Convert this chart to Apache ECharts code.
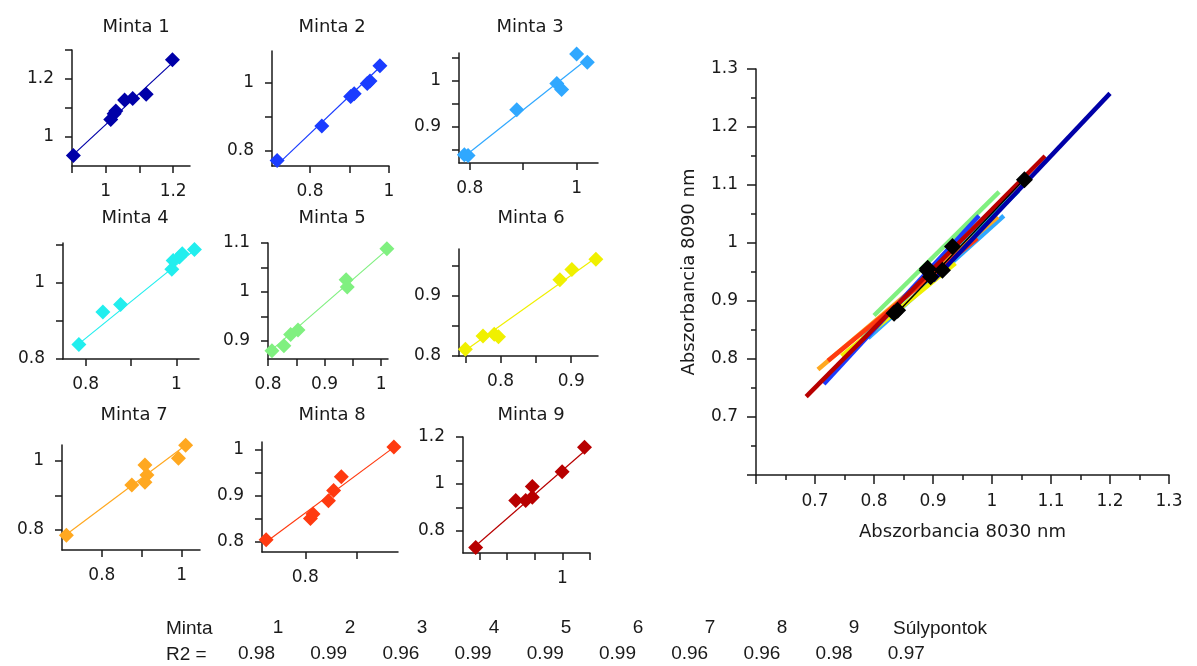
<!DOCTYPE html>
<html>
<head>
<meta charset="utf-8">
<script src="https://cdn.jsdelivr.net/npm/echarts@6/dist/echarts.min.js"></script>
<style>
html,body{margin:0;padding:0;background:#fff;}
#chart{width:1197px;height:666px;}
</style>
</head>
<body>
<div id="chart"></div>
<script>
// ---------------- DATA ----------------
const sampleNames = ['Minta 1','Minta 2','Minta 3','Minta 4','Minta 5','Minta 6','Minta 7','Minta 8','Minta 9'];
const sampleColors = ['#0000a8','#1a3cff','#30a8ff','#22eeee','#80f080','#f0f000','#ffa820','#ff3a10','#b80000'];

// Absorbance 8030 nm (x) and 8090 nm (y) per sample
const minta1X = [0.904, 1.015, 1.025, 1.030, 1.056, 1.080, 1.120, 1.198];
const minta1Y = [0.936, 1.060, 1.080, 1.090, 1.128, 1.133, 1.147, 1.266];
const minta2X = [0.717, 0.830, 0.903, 0.912, 0.945, 0.952, 0.977];
const minta2Y = [0.772, 0.873, 0.960, 0.968, 0.998, 1.005, 1.050];
const minta3X = [0.790, 0.797, 0.888, 0.963, 0.972, 1.000, 1.020];
const minta3Y = [0.840, 0.838, 0.937, 0.994, 0.981, 1.058, 1.040];
const minta4X = [0.785, 0.838, 0.877, 0.990, 0.993, 1.007, 1.013, 1.040];
const minta4Y = [0.838, 0.923, 0.943, 1.035, 1.058, 1.067, 1.076, 1.087];
const minta5X = [0.807, 0.828, 0.840, 0.853, 0.938, 0.940, 1.010];
const minta5Y = [0.880, 0.890, 0.913, 0.922, 1.025, 1.010, 1.088];
const minta6X = [0.750, 0.775, 0.791, 0.797, 0.884, 0.901, 0.935];
const minta6Y = [0.811, 0.833, 0.836, 0.832, 0.926, 0.943, 0.960];
const minta7X = [0.711, 0.875, 0.908, 0.913, 0.908, 0.992, 1.010];
const minta7Y = [0.785, 0.930, 0.988, 0.959, 0.938, 1.008, 1.045];
const minta8X = [0.724, 0.810, 0.815, 0.845, 0.855, 0.870, 0.972];
const minta8Y = [0.804, 0.850, 0.860, 0.889, 0.911, 0.941, 1.006];
const minta9X = [0.686, 0.831, 0.867, 0.891, 0.891, 0.999, 1.080];
const minta9Y = [0.729, 0.929, 0.929, 0.943, 0.989, 1.052, 1.156];

// Fitted line endpoints (samples 1..9, then centroid line)
const fitStartX = [0.900, 0.715, 0.790, 0.780, 0.800, 0.745, 0.705, 0.722, 0.685, 0.834];
const fitStartY = [0.935, 0.757, 0.836, 0.835, 0.875, 0.805, 0.782, 0.797, 0.735, 0.874];
const fitEndX   = [1.200, 0.978, 1.020, 1.045, 1.012, 0.938, 1.010, 0.975, 1.090, 1.055];
const fitEndY   = [1.258, 1.047, 1.047, 1.090, 1.088, 0.965, 1.045, 1.008, 1.150, 1.110];

// Centroids (Súlypontok) of samples 1..9
const centroidX = [1.055, 0.890, 0.916, 0.933, 0.891, 0.834, 0.896, 0.840, 0.891];
const centroidY = [1.109, 0.953, 0.953, 0.994, 0.956, 0.879, 0.942, 0.884, 0.956];

// Panel axis ranges and ticks
const panelXRange = [[0.9,1.25],[0.704,1.0],[0.78,1.04],[0.75,1.05],[0.8,1.012],[0.741,0.938],[0.7,1.046],[0.716,0.98],[0.64,1.1]];
const panelYRange = [[0.9,1.3],[0.756,1.093],[0.822,1.06],[0.8,1.104],[0.863,1.1],[0.8,0.977],[0.742,1.046],[0.777,1.017],[0.705,1.2]];
const panelXTicks = [[0.9,1.0,1.1,1.2],[0.7,0.8,0.9,1.0],[0.8,0.9,1.0],[0.8,0.9,1.0],[0.8,0.85,0.9,0.95,1.0],[0.75,0.8,0.85,0.9],[0.8,0.9,1.0],[0.8,0.9],[0.7,0.8,0.9,1.0,1.1]];
const panelXLabels = [[1.0,1.2],[0.8,1.0],[0.8,1.0],[0.8,1.0],[0.8,0.9,1.0],[0.8,0.9],[0.8,1.0],[0.8],[1.0]];
const panelYTicks = [[1.0,1.1,1.2,1.3],[0.8,0.9,1.0],[0.85,0.9,0.95,1.0,1.05],[0.8,0.9,1.0,1.1],[0.9,0.95,1.0,1.05,1.1],[0.8,0.85,0.9,0.95],[0.8,0.9,1.0],[0.8,0.85,0.9,0.95,1.0],[0.8,0.9,1.0,1.1,1.2]];
const panelYLabels = [[1.0,1.2],[0.8,1.0],[0.9,1.0],[0.8,1.0],[0.9,1.0,1.1],[0.8,0.9],[0.8,1.0],[0.8,0.9,1.0],[0.8,1.0,1.2]];

// Table at the bottom
const tableHeader = ['1','2','3','4','5','6','7','8','9'];
const r2Values = ['0.98','0.99','0.96','0.99','0.99','0.99','0.96','0.96','0.98','0.97'];

const sampleX = [minta1X,minta2X,minta3X,minta4X,minta5X,minta6X,minta7X,minta8X,minta9X];
const sampleY = [minta1Y,minta2Y,minta3Y,minta4Y,minta5Y,minta6Y,minta7Y,minta8Y,minta9Y];

// ---------------- LAYOUT ----------------
const panelGrid = [
  {left:72, top:50, width:118, height:116},
  {left:272, top:51, width:117, height:115},
  {left:459, top:53, width:139, height:110},
  {left:63, top:243, width:136, height:116},
  {left:268, top:243, width:120, height:116},
  {left:459, top:249, width:139, height:107},
  {left:62, top:445, width:138, height:105},
  {left:262, top:442, width:136, height:110},
  {left:463, top:437, width:127, height:116}
];
const titlePos = [[131,13],[327,13],[525,13],[130,204],[327,204],[526,204],[129,401],[327,401],[526,401]];
const bigGrid = {left:756, top:69, width:413, height:406};

const INK = '#1a1a1a';
const FONT = 'DejaVu Sans';
const fmt = v => String(+(+v).toFixed(2));

const grids = [], xAxes = [], yAxes = [], series = [], titles = [];

for (let i = 0; i < 9; i++) {
  grids.push(Object.assign({containLabel:false}, panelGrid[i]));
  const axisCommon = {
    type:'value', gridIndex:i,
    axisLine:{show:true, onZero:false, lineStyle:{color:INK, width:1.5}},
    splitLine:{show:false}
  };
  xAxes.push(Object.assign({}, axisCommon, {
    min:panelXRange[i][0], max:panelXRange[i][1],
    axisTick:{show:true, length:7, customValues:panelXTicks[i], lineStyle:{color:INK, width:1.5}},
    axisLabel:{customValues:panelXLabels[i], formatter:fmt, margin:17, fontSize:17, color:INK, fontFamily:FONT}
  }));
  yAxes.push(Object.assign({}, axisCommon, {
    min:panelYRange[i][0], max:panelYRange[i][1],
    axisTick:{show:true, length:7, customValues:panelYTicks[i], lineStyle:{color:INK, width:1.5}},
    axisLabel:{customValues:panelYLabels[i], formatter:fmt, margin:18, fontSize:17, color:INK, fontFamily:FONT}
  }));
  titles.push({
    text:sampleNames[i], left:titlePos[i][0], top:titlePos[i][1], textAlign:'center',
    textStyle:{fontSize:18, fontWeight:'normal', color:INK, fontFamily:FONT}
  });
  series.push({
    type:'line', xAxisIndex:i, yAxisIndex:i, symbol:'none', silent:true,
    lineStyle:{color:sampleColors[i], width:1.2},
    data:[[fitStartX[i], fitStartY[i]], [fitEndX[i], fitEndY[i]]],
    z:2
  });
  series.push({
    type:'scatter', xAxisIndex:i, yAxisIndex:i, symbol:'diamond', symbolSize:15,
    itemStyle:{color:sampleColors[i], opacity:1},
    data:sampleX[i].map((x, k) => [x, sampleY[i][k]]),
    z:3
  });
}

// Big chart
grids.push(Object.assign({containLabel:false}, bigGrid));
const bigAxis = (name, gap) => ({
  type:'value', gridIndex:9, min:0.6, max:1.3, interval:0.1,
  name:name, nameLocation:'middle', nameGap:gap,
  nameTextStyle:{fontSize:18, color:INK, fontFamily:FONT},
  axisLine:{show:true, onZero:false, lineStyle:{color:INK, width:1.5}},
  axisTick:{show:true, length:9, lineStyle:{color:INK, width:1.5}},
  minorTick:{show:true, splitNumber:2, length:5, lineStyle:{color:INK, width:1.5}},
  axisLabel:{formatter:v => (Math.abs(v-0.6) < 1e-6 ? '' : fmt(v)), margin:18, fontSize:17, color:INK, fontFamily:FONT},
  splitLine:{show:false}, minorSplitLine:{show:false}
});
xAxes.push(bigAxis('Abszorbancia 8030 nm', 48));
yAxes.push(bigAxis('Abszorbancia 8090 nm', 58));

const drawOrder = [4, 3, 2, 5, 6, 1, 7, 8, 0];
drawOrder.forEach((i, k) => {
  series.push({
    type:'line', xAxisIndex:9, yAxisIndex:9, symbol:'none', silent:true,
    lineStyle:{color:sampleColors[i], width:4.5},
    data:[[fitStartX[i], fitStartY[i]], [fitEndX[i], fitEndY[i]]],
    z:2 + k * 0.01
  });
});
series.push({
  type:'line', xAxisIndex:9, yAxisIndex:9, symbol:'none', silent:true,
  lineStyle:{color:'#000', width:1.5},
  data:[[fitStartX[9], fitStartY[9]], [fitEndX[9], fitEndY[9]]],
  z:3
});
series.push({
  type:'scatter', xAxisIndex:9, yAxisIndex:9, symbol:'diamond', symbolSize:17,
  itemStyle:{color:'#000', opacity:1},
  data:centroidX.map((x, k) => [x, centroidY[k]]),
  z:4
});

// Table graphic
const TFONT = '19px "Liberation Sans", Arial, sans-serif';
const graphics = [];
graphics.push({type:'text', left:166, top:619, style:{text:'Minta', font:TFONT, fill:INK}});
tableHeader.forEach((t, k) => {
  graphics.push({type:'text', x:278 + k * 72.0, y:628, style:{text:t, font:TFONT, fill:INK, align:'center', verticalAlign:'middle'}});
});
graphics.push({type:'text', left:893, top:619, style:{text:'Súlypontok', font:TFONT, fill:INK}});
graphics.push({type:'text', left:166, top:645, style:{text:'R2 =', font:TFONT, fill:INK}});
r2Values.forEach((t, k) => {
  graphics.push({type:'text', x:238 + k * 72.2, y:654, style:{text:t, font:TFONT, fill:INK, align:'left', verticalAlign:'middle'}});
});

const chart = echarts.init(document.getElementById('chart'), null, {renderer:'canvas'});
chart.setOption({
  animation:false,
  backgroundColor:'#fff',
  title:titles,
  grid:grids,
  xAxis:xAxes,
  yAxis:yAxes,
  series:series,
  graphic:graphics
});
</script>
</body>
</html>
